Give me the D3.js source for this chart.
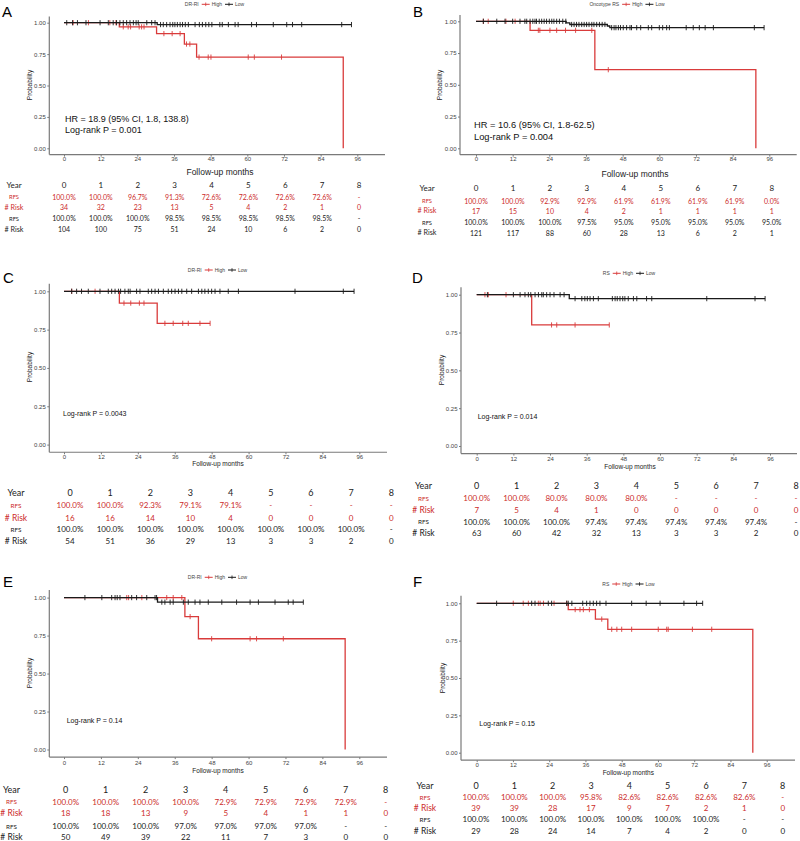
<!DOCTYPE html>
<html><head><meta charset="utf-8">
<script src="https://cdn.jsdelivr.net/npm/d3@7/dist/d3.min.js"></script>
<style>
body{margin:0;background:#fff;}
svg{display:block;}
</style></head>
<body>
<svg id="chart" width="800" height="841"></svg>
<script>
// ---------------- DATA ----------------
const years = [0,1,2,3,4,5,6,7,8];
const xTicks = [0,12,24,36,48,60,72,84,96];
const yTicks = [0,0.25,0.5,0.75,1];

// Panel A (DR-RI)
const aHighSteps = [[0,1],[18.1,0.967],[30.3,0.913],[39.4,0.830],[43.4,0.726],[91.4,0]];
const aHighEnd = 91.4;
const aHighCens = [3,8,15,17,19.4,21.0,21.8,24.6,25.4,26.2,32.7,35.4,38.0,40.1,41.2,44.2,47.2,48.1,60.3,62.3,71.2];
const aLowSteps = [[0,1],[30.5,0.985]];
const aLowEnd = 94.1;
const aLowCens = [0.9,2.8,4.4,7.2,11.8,14.5,16.1,17.2,18.3,19.4,20.5,21.6,22.7,23.6,24.3,27.1,28.7,29.8,31.6,32.5,33.6,34.7,35.6,36.3,37.1,38.0,38.8,39.7,40.7,42.9,44.3,45.3,46.4,47.4,48.4,51.0,51.8,53.8,56.0,57.0,61.4,63.0,68.5,72.9,74.8,77.8,90.9,94.1];
const aHighRFS = ["100.0%","100.0%","96.7%","91.3%","72.6%","72.6%","72.6%","72.6%","-"];
const aHighRisk = [34,32,23,13,5,4,2,1,0];
const aLowRFS = ["100.0%","100.0%","100.0%","98.5%","98.5%","98.5%","98.5%","98.5%","-"];
const aLowRisk = [104,100,75,51,24,10,6,2,0];

// Panel B (Oncotype RS)
const bHighSteps = [[0,1],[17.7,0.929],[38.9,0.619],[91.6,0]];
const bHighEnd = 91.6;
const bHighCens = [2.4,4.0,9.8,12.8,20.4,20.9,24.2,26.4,29.3,32.6,37.9,43.3];
const bLowSteps = [[0,1],[29.5,0.988],[30.7,0.975],[43.0,0.963],[43.8,0.950]];
const bLowEnd = 94.3;
const bLowCens = [2.4,6.8,9.5,12.0,14.4,16.0,16.6,17.7,18.6,19.3,19.8,20.7,21.5,22.3,23.1,24.0,24.8,25.5,26.4,27.3,28.4,29.4,31.3,32.1,32.9,33.7,34.6,35.4,36.2,37.0,37.9,38.6,39.5,40.4,41.3,42.2,44.4,45.2,45.8,46.6,47.3,48.2,49.3,50.4,50.9,52.6,53.9,56.4,57.5,60.0,61.1,62.4,63.3,68.8,71.1,73.1,75.0,77.7,91.1,94.3];
const bHighRFS = ["100.0%","100.0%","92.9%","92.9%","61.9%","61.9%","61.9%","61.9%","0.0%"];
const bHighRisk = [17,15,10,4,2,1,1,1,1];
const bLowRFS = ["100.0%","100.0%","100.0%","97.5%","95.0%","95.0%","95.0%","95.0%","95.0%"];
const bLowRisk = [121,117,88,60,28,13,6,2,1];

// Panel C (DR-RI)
const cHighSteps = [[0,1],[18.0,0.923],[30.3,0.791]];
const cHighEnd = 47.5;
const cHighCens = [2.5,10.1,19.5,21.7,24.5,26.0,32.8,35.5,38.6,40.4,44.2,47.5];
const cLowSteps = [[0,1]];
const cLowEnd = 94.3;
const cLowCens = [2.5,4.1,5.7,7.9,11.7,14.4,15.5,16.6,17.7,18.4,19.8,20.9,21.5,23.6,24.7,27.4,28.5,29.6,30.7,32.3,33.9,35.0,36.1,37.2,38.3,39.9,41.5,43.7,44.8,45.8,46.9,48.0,49.1,50.7,53.4,56.7,75.1,90.8,94.3];
const cHighRFS = ["100.0%","100.0%","92.3%","79.1%","79.1%","-","-","-","-"];
const cHighRisk = [16,16,14,10,4,0,0,0,0];
const cLowRFS = ["100.0%","100.0%","100.0%","100.0%","100.0%","100.0%","100.0%","100.0%","-"];
const cLowRisk = [54,51,36,29,13,3,3,2,0];

// Panel D (RS)
const dHighSteps = [[0,1],[18.0,0.80]];
const dHighEnd = 43.4;
const dHighCens = [2.7,3.8,9.6,24.5,26.2,32.2,43.4];
const dLowSteps = [[0,1],[30.3,0.974]];
const dLowEnd = 94.4;
const dLowCens = [3.5,12.0,14.2,15.8,16.9,17.7,19.1,20.2,21.3,21.8,22.9,24.0,25.3,27.3,28.6,32.2,34.4,35.4,36.2,37.1,38.2,39.8,44.4,45.3,46.0,46.9,47.8,48.5,49.6,51.3,52.4,55.6,57.3,75.3,91.1,94.4];
const dHighRFS = ["100.0%","100.0%","80.0%","80.0%","80.0%","-","-","-","-"];
const dHighRisk = [7,5,4,1,0,0,0,0,0];
const dLowRFS = ["100.0%","100.0%","100.0%","97.4%","97.4%","97.4%","97.4%","97.4%","-"];
const dLowRisk = [63,60,42,32,13,3,3,2,0];

// Panel E (DR-RI)
const eHighSteps = [[0,1],[39.3,0.875],[43.7,0.729],[91.4,0]];
const eHighEnd = 91.4;
const eHighCens = [20.4,21.0,25.3,33.4,35.5,38.3,41.0,48.0,60.5,62.6,71.3];
const eLowSteps = [[0,1],[30.4,0.970]];
const eLowEnd = 77.8;
const eLowCens = [6.8,12.3,15.5,16.6,17.3,18.2,22.0,23.6,26.9,29.6,30.1,31.8,32.8,34.5,35.5,38.8,40.4,42.6,44.2,46.9,51.3,56.1,60.5,63.2,68.6,72.9,74.5,77.8];
const eHighRFS = ["100.0%","100.0%","100.0%","100.0%","72.9%","72.9%","72.9%","72.9%","-"];
const eHighRisk = [18,18,13,9,5,4,1,1,0];
const eLowRFS = ["100.0%","100.0%","100.0%","97.0%","97.0%","97.0%","97.0%","-","-"];
const eLowRisk = [50,49,39,22,11,7,3,0,0];

// Panel F (RS)
const fHighSteps = [[0,1],[30.3,0.958],[39.3,0.894],[43.4,0.826],[91.4,0]];
const fHighEnd = 91.4;
const fHighCens = [12.1,15.4,17.1,20.4,21.0,22.1,25.6,29.8,32.6,34.2,35.3,37.3,41.4,44.7,46.4,48.0,51.3,60.1,62.9,63.4,71.4,77.8];
const fLowSteps = [[0,1]];
const fLowEnd = 74.8;
const fLowCens = [6.6,18.2,19.3,23.7,24.8,29.8,30.3,31.5,35.1,36.4,37.5,38.6,39.7,40.8,42.8,51.3,56.1,60.7,68.6,72.8,74.8];
const fHighRFS = ["100.0%","100.0%","100.0%","95.8%","82.6%","82.6%","82.6%","82.6%","-"];
const fHighRisk = [39,39,28,17,9,7,2,1,0];
const fLowRFS = ["100.0%","100.0%","100.0%","100.0%","100.0%","100.0%","100.0%","-","-"];
const fLowRisk = [29,28,24,14,7,4,2,0,0];

// ---------------- PANELS ----------------
const panels = [
 {letter:"A", legendTitle:"DR-RI", notes:["HR = 18.9 (95% CI, 1.8, 138.8)","Log-rank P = 0.001"],
  high:{steps:aHighSteps,end:aHighEnd,cens:aHighCens}, low:{steps:aLowSteps,end:aLowEnd,cens:aLowCens},
  tab:{hRFS:aHighRFS,hRisk:aHighRisk,lRFS:aLowRFS,lRisk:aLowRisk},
  g:{x0:64,x96:357.3,y1:22.7,y0:148.3,yAxisX:49.3,xRight:385,tickLabY:161.5,followX:220,followY:175,followSize:8.5,
     probX:29,probY:85,textX:65,textY:[122,133],textSize:9,letterX:2,letterY:17,legX:214.5,legY:4.3,
     rows:[185,196.7,207.3,218.3,229.3],c0:64,c8:359,labelX:14,big:false}},
 {letter:"B", legendTitle:"Oncotype RS", notes:["HR = 10.6 (95% CI, 1.8-62.5)","Log-rank P = 0.004"],
  high:{steps:bHighSteps,end:bHighEnd,cens:bHighCens}, low:{steps:bLowSteps,end:bLowEnd,cens:bLowCens},
  tab:{hRFS:bHighRFS,hRisk:bHighRisk,lRFS:bLowRFS,lRisk:bLowRisk},
  g:{x0:476,x96:769.3,y1:21.3,y0:148.3,yAxisX:460,xRight:796.7,tickLabY:161.5,followX:635,followY:177,followSize:8.5,
     probX:439,probY:85,textX:474,textY:[128,139.5],textSize:9.3,letterX:413,letterY:17,legX:627,legY:4.3,
     rows:[188.3,200.7,210.7,222.3,232.7],c0:476,c8:771.7,labelX:427,big:false}},
 {letter:"C", legendTitle:"DR-RI", notes:["Log-rank P = 0.0043"],
  high:{steps:cHighSteps,end:cHighEnd,cens:cHighCens}, low:{steps:cLowSteps,end:cLowEnd,cens:cLowCens},
  tab:{hRFS:cHighRFS,hRisk:cHighRisk,lRFS:cLowRFS,lRisk:cLowRisk},
  g:{x0:64,x96:359.3,y1:291.3,y0:444.6,yAxisX:49.3,xRight:387,tickLabY:458.8,followX:218,followY:465.8,followSize:6.5,
     probX:29.3,probY:367,textX:63,textY:[415.5],textSize:7,letterX:3,letterY:283,legX:217.5,legY:270,
     rows:[492.7,505.3,517.7,529.3,541],c0:70,c8:391.3,labelX:16,big:true}},
 {letter:"D", legendTitle:"RS", notes:["Log-rank P = 0.014"],
  high:{steps:dHighSteps,end:dHighEnd,cens:dHighCens}, low:{steps:dLowSteps,end:dLowEnd,cens:dLowCens},
  tab:{hRFS:dHighRFS,hRisk:dHighRisk,lRFS:dLowRFS,lRisk:dLowRisk},
  g:{x0:476.7,x96:770,y1:294.7,y0:446,yAxisX:461,xRight:797,tickLabY:461.2,followX:630,followY:468.5,followSize:6.5,
     probX:441.7,probY:370,textX:477.7,textY:[419],textSize:7,letterX:412,letterY:283,legX:629,legY:273.3,
     rows:[485.7,498.3,510,521.7,533.3],c0:476.7,c8:796,labelX:423.5,big:true}},
 {letter:"E", legendTitle:"DR-RI", notes:["Log-rank P = 0.14"],
  high:{steps:eHighSteps,end:eHighEnd,cens:eHighCens}, low:{steps:eLowSteps,end:eLowEnd,cens:eLowCens},
  tab:{hRFS:eHighRFS,hRisk:eHighRisk,lRFS:eLowRFS,lRisk:eLowRisk},
  g:{x0:64,x96:359.3,y1:597.6,y0:749.5,yAxisX:49.3,xRight:387,tickLabY:765,followX:218,followY:773,followSize:6.5,
     probX:29.3,probY:673,textX:66.7,textY:[722.5],textSize:7,letterX:3,letterY:587,legX:217.5,legY:577.3,
     rows:[789,801.7,813.3,826,836.7],c0:65.7,c8:385.7,labelX:11.5,big:true}},
 {letter:"F", legendTitle:"RS", notes:["Log-rank P = 0.15"],
  high:{steps:fHighSteps,end:fHighEnd,cens:fHighCens}, low:{steps:fLowSteps,end:fLowEnd,cens:fLowCens},
  tab:{hRFS:fHighRFS,hRisk:fHighRisk,lRFS:fLowRFS,lRisk:fLowRisk},
  g:{x0:476.7,x96:766.7,y1:603.3,y0:752.7,yAxisX:461,xRight:795,tickLabY:767,followX:628.3,followY:775,followSize:6.5,
     probX:442.7,probY:678,textX:479.3,textY:[726],textSize:7,letterX:413,letterY:587,legX:628.5,legY:584,
     rows:[785,797.3,808.3,819.3,830.7],c0:476,c8:782.7,labelX:425,big:true}}
];

// ---------------- STYLE ----------------
const RED = "#d93b3b", RED_TXT = "#cc2b2b", BLACK = "#1a1a1a", AXIS = "#7a7a7a";
const SANS = "'Liberation Sans', Arial, sans-serif";
const TAB = "Lato, 'Open Sans', sans-serif";

const svg = d3.select("#chart");

function survAt(steps, t){
  let v = steps[0][1];
  for (const s of steps){ if (s[0] <= t) v = s[1]; }
  return v;
}

function drawPanel(p){
  const g = p.g;
  const x = d3.scaleLinear().domain([0,96]).range([g.x0,g.x96]);
  const y = d3.scaleLinear().domain([0,1]).range([g.y0,g.y1]);
  const gp = svg.append("g");
  const yTop = y(1.05), xAxisY = y(-0.05);

  // axes lines
  gp.append("line").attr("x1",g.yAxisX).attr("x2",g.yAxisX).attr("y1",yTop).attr("y2",xAxisY)
    .attr("stroke",AXIS).attr("stroke-width",1.2);
  gp.append("line").attr("x1",g.yAxisX).attr("x2",g.xRight).attr("y1",xAxisY).attr("y2",xAxisY)
    .attr("stroke",AXIS).attr("stroke-width",1.2);

  // y axis ticks via d3 axis
  const ya = d3.axisLeft(y).tickValues(yTicks).tickFormat(d3.format(".2f")).tickSize(2).tickPadding(1.5);
  const yg = gp.append("g").attr("transform",`translate(${g.yAxisX},0)`).call(ya);
  yg.select(".domain").remove();
  yg.selectAll("line").attr("stroke",AXIS);
  yg.selectAll("text").attr("font-family",SANS).attr("font-size",6).attr("fill","#444");

  const xa = d3.axisBottom(x).tickValues(xTicks).tickFormat(d3.format("d")).tickSize(2).tickPadding(2);
  const xg = gp.append("g").attr("transform",`translate(0,${xAxisY})`).call(xa);
  xg.select(".domain").remove();
  xg.selectAll("line").attr("stroke",AXIS);
  xg.selectAll("text").attr("font-family",SANS).attr("font-size",6).attr("fill","#444")
    .attr("dy",null).attr("y",g.tickLabY - xAxisY);

  // curves
  const line = d3.line().x(d=>x(d[0])).y(d=>y(d[1])).curve(d3.curveStepAfter);
  [[p.high,RED],[p.low,BLACK]].forEach(([s,col])=>{
    const pts = s.steps.map(d=>[d[0],d[1]]);
    pts.push([s.end, survAt(s.steps, s.end)]);
    gp.append("path").attr("d",line(pts)).attr("fill","none").attr("stroke",col).attr("stroke-width",1.3);
    gp.selectAll(null).data(s.cens).enter().append("line")
      .attr("x1",d=>x(d)).attr("x2",d=>x(d))
      .attr("y1",d=>y(survAt(s.steps,d))-2.6).attr("y2",d=>y(survAt(s.steps,d))+2.6)
      .attr("stroke",col).attr("stroke-width",0.9);
  });

  // axis titles
  gp.append("text").attr("x",g.followX).attr("y",g.followY).attr("text-anchor","middle")
    .attr("font-family",SANS).attr("font-size",g.followSize).attr("fill","#222").text("Follow-up months");
  gp.append("text").attr("transform",`translate(${g.probX},${g.probY}) rotate(-90)`).attr("text-anchor","middle")
    .attr("dominant-baseline","central").attr("font-family",SANS).attr("font-size",6.5).attr("fill","#222").text("Probability");

  // notes
  p.notes.forEach((t,i)=>{
    gp.append("text").attr("x",g.textX).attr("y",g.textY[i]).attr("font-family",SANS)
      .attr("font-size",g.textSize).attr("fill","#111").text(t);
  });

  // letter
  gp.append("text").attr("x",g.letterX).attr("y",g.letterY).attr("font-family",SANS)
    .attr("font-size",15).attr("fill","#000").text(p.letter);

  // legend
  const lg = gp.append("g");
  const fs = 5;
  let cx = 0;
  const t1 = lg.append("text").attr("x",cx).attr("y",0).attr("dominant-baseline","central")
    .attr("font-family",SANS).attr("font-size",fs).attr("fill","#444").text(p.legendTitle);
  cx += t1.node().getComputedTextLength() + 3;
  [["High",RED],["Low",BLACK]].forEach(([lab,col])=>{
    lg.append("line").attr("x1",cx).attr("x2",cx+8).attr("y1",0).attr("y2",0).attr("stroke",col).attr("stroke-width",1);
    lg.append("line").attr("x1",cx+4).attr("x2",cx+4).attr("y1",-1.8).attr("y2",1.8).attr("stroke",col).attr("stroke-width",0.8);
    cx += 10;
    const tt = lg.append("text").attr("x",cx).attr("y",0).attr("dominant-baseline","central")
      .attr("font-family",SANS).attr("font-size",fs).attr("fill","#444").text(lab);
    cx += tt.node().getComputedTextLength() + 3;
  });
  const w = cx - 3;
  lg.attr("transform",`translate(${g.legX - w/2},${g.legY})`);

  // risk table
  const col = d3.scaleLinear().domain([0,8]).range([g.c0,g.c8]);
  const big = g.big;
  const sYear = big?9:8, sVal = big?8:7, sRFS = big?6.3:5.8, sRisk = big?8.5:7.2;
  const tg = gp.append("g").attr("font-family",TAB);
  const rowsDef = [
    {label:"Year", vals:years, color:"#222", ls:sYear, vs:sYear},
    {label:"RFS", vals:p.tab.hRFS, color:RED_TXT, ls:sRFS, vs:sVal},
    {label:"# Risk", vals:p.tab.hRisk, color:RED_TXT, ls:sRisk, vs:sVal},
    {label:"RFS", vals:p.tab.lRFS, color:"#222", ls:sRFS, vs:sVal},
    {label:"# Risk", vals:p.tab.lRisk, color:"#222", ls:sRisk, vs:sVal}
  ];
  rowsDef.forEach((r,i)=>{
    const yy = g.rows[i];
    tg.append("text").attr("x",g.labelX).attr("y",yy).attr("text-anchor","middle").attr("dominant-baseline","central")
      .attr("font-size",r.ls).attr("fill",r.color).text(r.label);
    tg.selectAll(null).data(r.vals).enter().append("text")
      .attr("x",(d,j)=>col(years[j])).attr("y",yy).attr("text-anchor","middle").attr("dominant-baseline","central")
      .attr("font-size",r.vs).attr("fill",r.color).text(d=>d);
  });
}

panels.forEach(drawPanel);
</script>
</body></html>
